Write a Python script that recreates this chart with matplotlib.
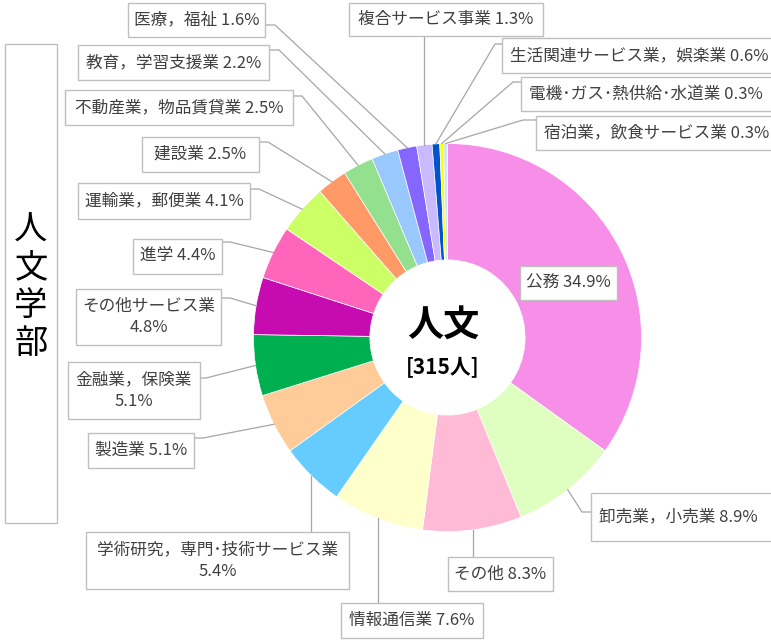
import numpy as np
import matplotlib
matplotlib.use("Agg")
import matplotlib.pyplot as plt
from matplotlib.patches import Rectangle

plt.rcParams['font.family'] = ['Noto Sans CJK JP', 'DejaVu Sans']

# data: destinations of graduates, clockwise from 12 o'clock
industries = ['公務', '卸売業，小売業', 'その他', '情報通信業',
              '学術研究，専門･技術サービス業', '製造業', '金融業，保険業',
              'その他サービス業', '進学', '運輸業，郵便業', '建設業',
              '不動産業，物品賃貸業', '教育，学習支援業', '医療，福祉',
              '複合サービス事業', '生活関連サービス業，娯楽業',
              '電機･ガス･熱供給･水道業', '宿泊業，飲食サービス業']
counts = [110, 28, 26, 24, 17, 16, 16, 15, 14, 13, 8, 8, 7, 5, 4, 2, 1, 1]
colors = ['#F78FE9', '#DEFFBF', '#FFBBD5', '#FFFFCC', '#66CCFF', '#FFCC99',
          '#00B050', '#C60CB0', '#FF66BB', '#CCFF66', '#FF9966', '#93E08F',
          '#99C8FF', '#8566FF', '#C9BAFF', '#0055CC', '#FFFF00', '#CCE6FF']
faculty = '人文学部'
short_name = '人文'

total = sum(counts)

# layout in pixels (y from top): box, line attach point, elbow, kind, wrap
# kind: 'side' -> anchor -> elbow -> attach, 'down'/'up' -> vertical line to box edge
boxes = {
    '医療，福祉': ((128, 3, 265, 37), (265, 25), (275, 25), 'side', False),
    '教育，学習支援業': ((78, 45, 269, 80), (269, 50), (279, 50), 'side', False),
    '不動産業，物品賃貸業': ((65, 90, 293, 125), (293, 96), (302, 96), 'side', False),
    '建設業': ((142, 137, 259, 172), (259, 142), (268, 142), 'side', False),
    '運輸業，郵便業': ((78, 183, 250, 219), (250, 189), (259, 189), 'side', False),
    '進学': ((133, 239, 222, 274), (222, 242), (230, 242), 'side', False),
    'その他サービス業': ((76, 289, 221, 345), (221, 298), (230, 298), 'side', True),
    '金融業，保険業': ((68, 362, 200, 419), (200, 378), (206, 378), 'side', True),
    '製造業': ((88, 433, 194, 468), (194, 438), (203, 438), 'side', False),
    '学術研究，専門･技術サービス業': ((86, 532, 349, 589), None, None, 'down', True),
    '情報通信業': ((341, 603, 483, 638), None, None, 'down', False),
    'その他': ((448, 557, 553, 591), None, None, 'down', False),
    '卸売業，小売業': ((591, 493, 778, 541), (591, 512), (582, 512), 'side', False),
    '公務': ((520, 266, 617, 300), None, None, 'none', False),
    '宿泊業，飲食サービス業': ((536, 116, 778, 150), (536, 120), (523, 120), 'side', False),
    '電機･ガス･熱供給･水道業': ((521, 77, 778, 111), (521, 82), (513, 82), 'side', False),
    '生活関連サービス業，娯楽業': ((502, 38, 778, 73), (502, 44), (495, 44), 'side', False),
    '複合サービス事業': ((349, 3, 543, 36), None, None, 'up', False),
}

W, H = 771, 642
fig = plt.figure(figsize=(W / 100, H / 100), dpi=100)
ax = fig.add_axes([0, 0, 1, 1])

cx, cy, R = 447.5, 337.5, 194
# y axis is inverted, so start at -90 and go "counterclockwise" to look clockwise from the top
wedges, _ = ax.pie(counts, colors=colors, startangle=-90, counterclock=True,
                   center=(cx, cy), radius=R,
                   wedgeprops=dict(width=R * 0.6, edgecolor='white', linewidth=0.5))
ax.set_xlim(0, W)
ax.set_ylim(H, 0)
ax.set_aspect('auto')
ax.axis('off')

line_c = '#A6A6A6'
edge_c = '#BFBFBF'
text_c = '#404040'

for name, n, w in zip(industries, counts, wedges):
    (x0, y0, x1, y1), attach, elbow, kind, wrap = boxes[name]
    pct = '%.1f%%' % (n / total * 100)
    label = name + ('\n' if wrap else ' ') + pct
    ax.add_patch(Rectangle((x0, y0), x1 - x0, y1 - y0, facecolor='white',
                           edgecolor=edge_c, linewidth=1, zorder=3))
    if x1 > W:
        # box runs off the right edge: text starts just inside the left border
        ax.text(x0 + 8, (y0 + y1) / 2, label, ha='left', va='center',
                fontsize=12, color=text_c, zorder=4)
    else:
        ax.text((x0 + x1) / 2, (y0 + y1) / 2, label, ha='center', va='center',
                fontsize=12, color=text_c, linespacing=1.35, zorder=4)

    mid = np.deg2rad((w.theta1 + w.theta2) / 2)
    axx = cx + R * np.cos(mid)
    ayy = cy + R * np.sin(mid)
    if kind == 'side':
        ax.plot([axx, elbow[0], attach[0]], [ayy, elbow[1], attach[1]],
                color=line_c, linewidth=0.9, zorder=2)
    elif kind == 'down':
        ax.plot([axx, axx], [ayy, y0], color=line_c, linewidth=0.9, zorder=2)
    elif kind == 'up':
        ax.plot([axx, axx], [ayy, y1], color=line_c, linewidth=0.9, zorder=2)

# center text
ax.text(443, 326, short_name, ha='center', va='center', fontsize=26,
        fontweight='bold', color='black')
ax.text(443, 368, '[%d人]' % total, ha='center', va='center', fontsize=15,
        fontweight='bold', color='black')

# faculty name box on the left
ax.add_patch(Rectangle((5, 44), 52, 479, facecolor='white', edgecolor=edge_c,
                       linewidth=1, zorder=3))
ax.text(31, 287, '\n'.join(faculty), ha='center', va='center', fontsize=24,
        color='black', linespacing=1.1, zorder=4)

plt.savefig("out.png", dpi=100)
